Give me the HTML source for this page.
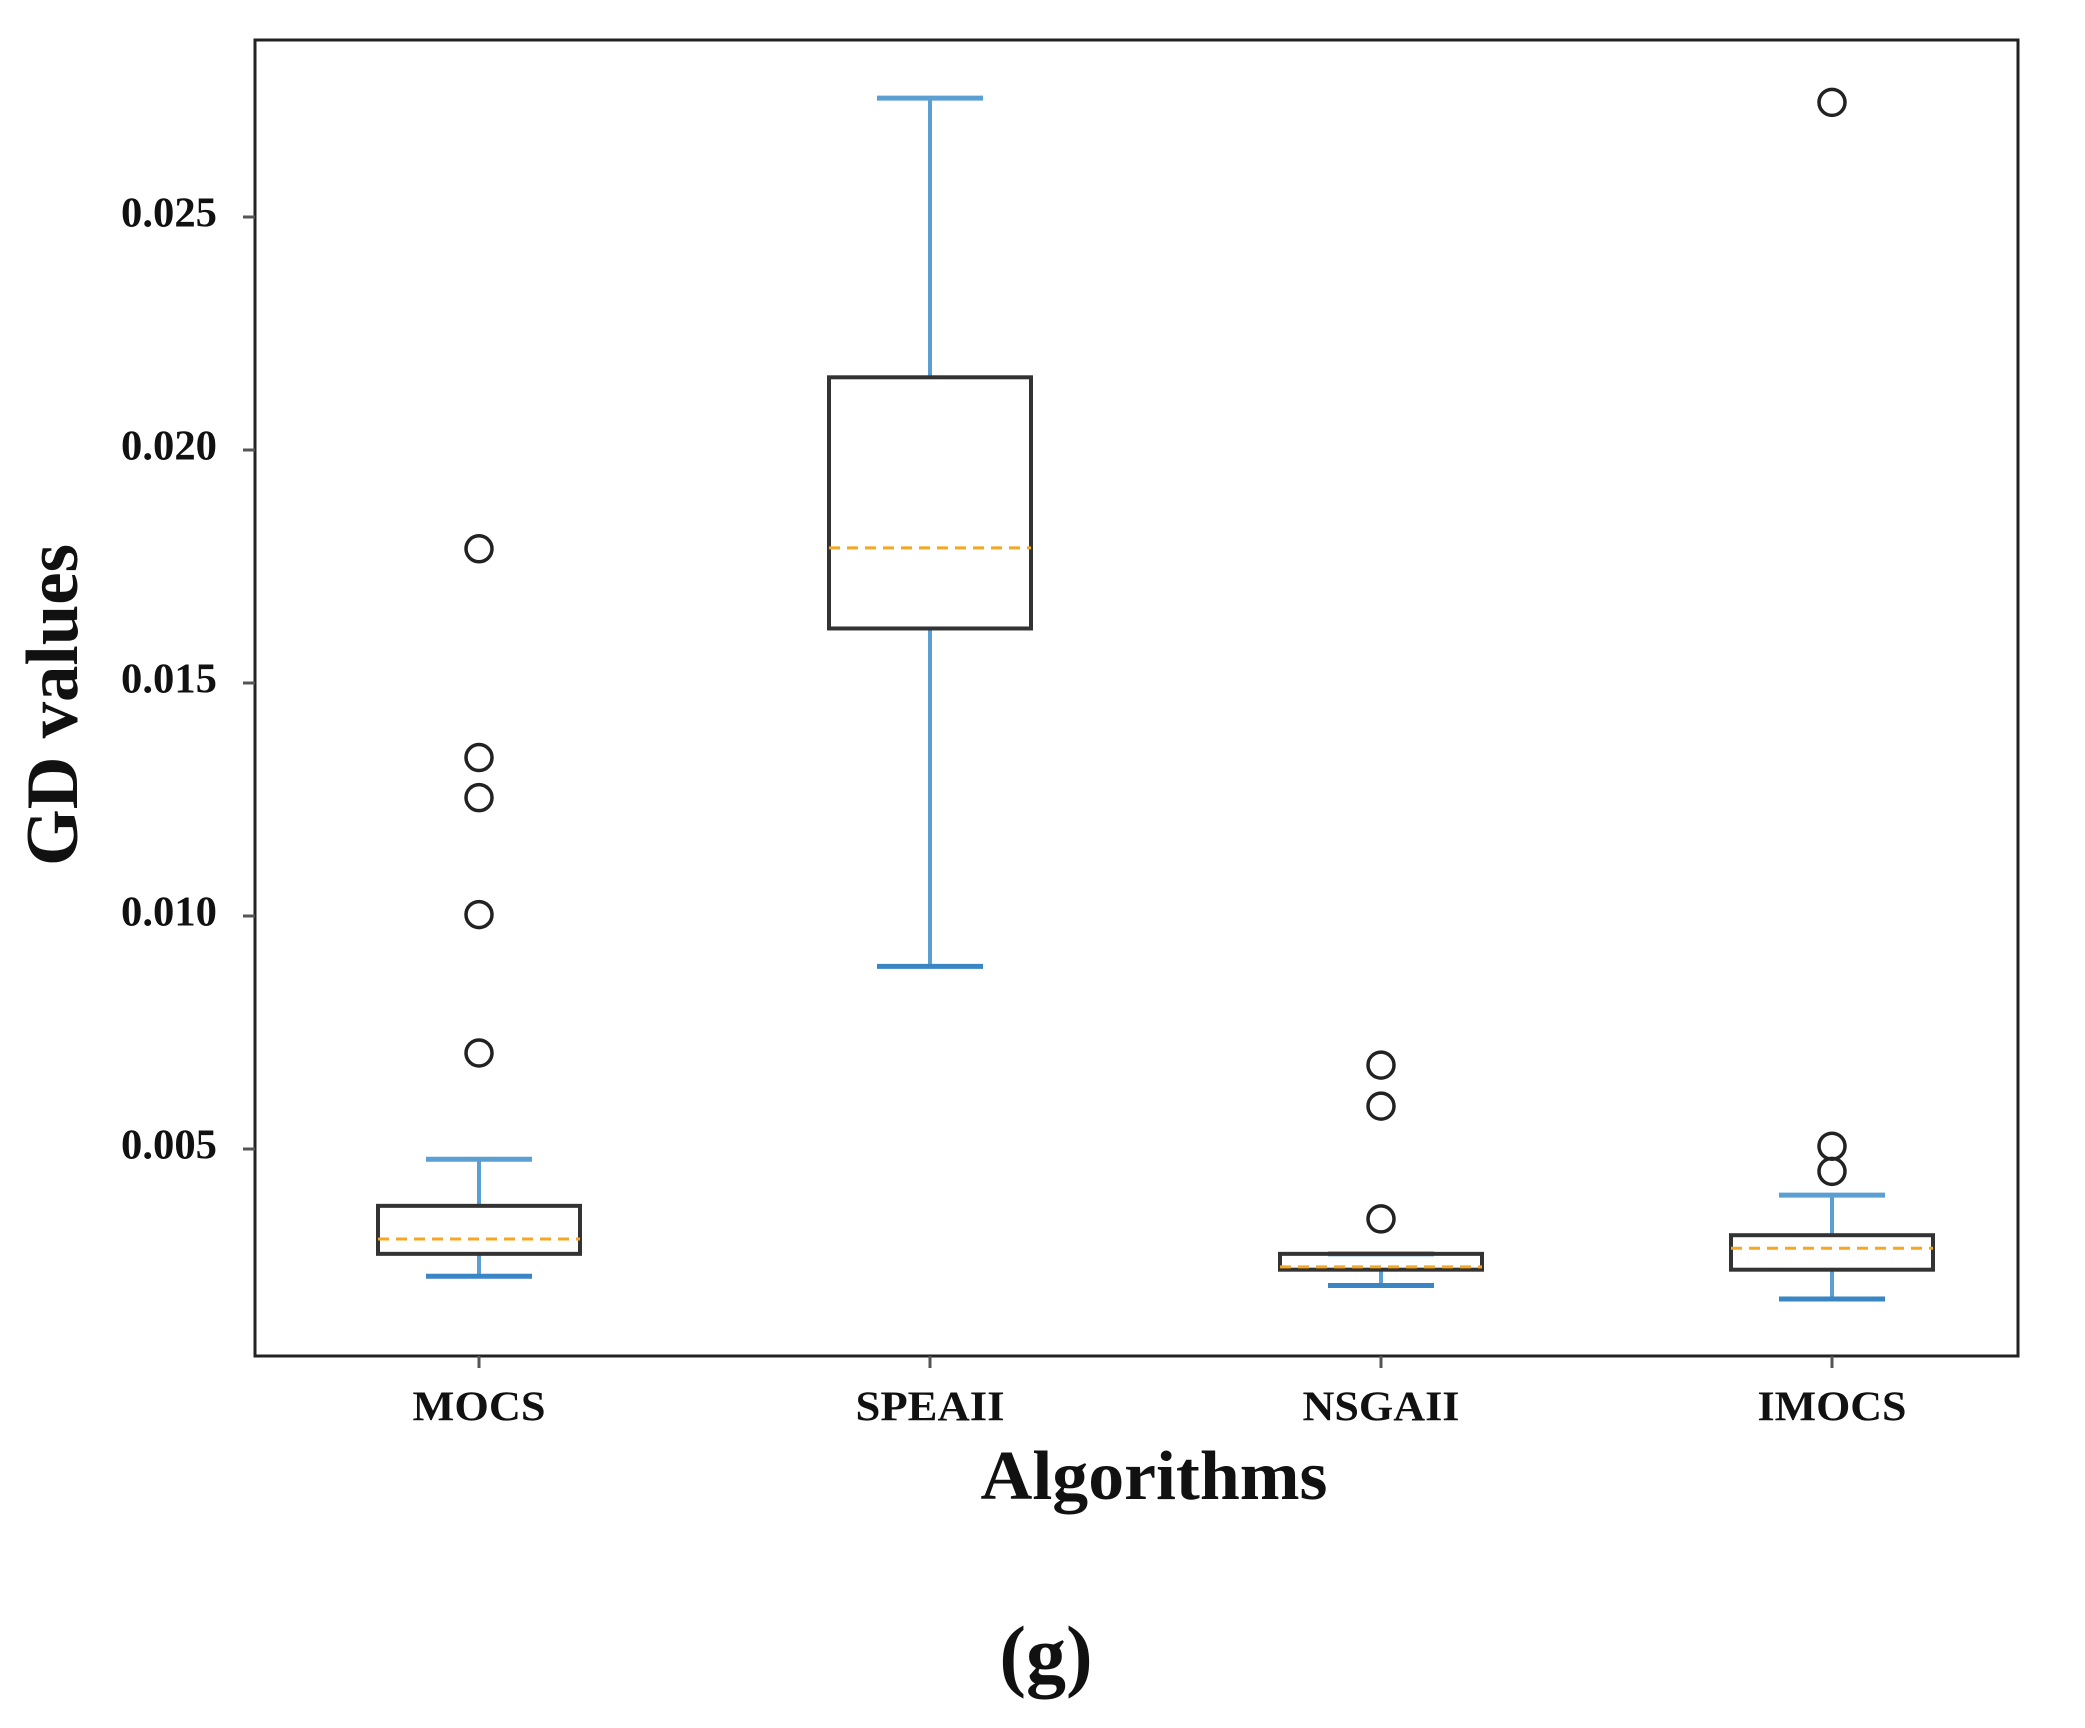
<!DOCTYPE html>
<html><head><meta charset="utf-8"><style>
html,body{margin:0;padding:0;background:#fff;}
svg{display:block;}
text{font-family:"Liberation Serif",serif;font-weight:bold;fill:#111;}
</style></head><body>
<svg id="chart" width="2085" height="1728" viewBox="0 0 2085 1728">
<rect x="0" y="0" width="2085" height="1728" fill="#fff"/>
<g id="plot"></g>
<rect x="255" y="40" width="1763" height="1316" fill="none" stroke="#222" stroke-width="3"/>
<g id="yticks"></g>
<g id="xticks"></g>
<text x="60" y="705" font-size="74" text-anchor="middle" dominant-baseline="middle" textLength="322" lengthAdjust="spacingAndGlyphs" transform="rotate(-90 60 705)">GD values</text>
<text x="1154" y="1483" font-size="70" text-anchor="middle" dominant-baseline="middle" textLength="347" lengthAdjust="spacingAndGlyphs">Algorithms</text>
<text x="1046" y="1663" font-size="80" text-anchor="middle" dominant-baseline="middle">(g)</text>
</svg>
<script>
const categories = ["MOCS","SPEAII","NSGAII","IMOCS"];
const whiskerLow = [0.00227,0.00892,0.00207,0.00178];
const q1 = [0.00275,0.01617,0.00241,0.00241];
const medians = [0.00307,0.0179,0.00247,0.00287];
const q3 = [0.00378,0.02156,0.00275,0.00315];
const whiskerHigh = [0.00478,0.02755,0.00275,0.00401];
const outliers = [[0.01788,0.0134,0.01254,0.01003,0.00706],[],[0.0068,0.00592,0.0035],[0.02746,0.00506,0.00452]];
const yTicks = [0.005,0.010,0.015,0.020,0.025];
const yTickLabels = ["0.005","0.010","0.015","0.020","0.025"];

const NS="http://www.w3.org/2000/svg";
const pLeft=255,pRight=2018,pTop=40,pBottom=1356;
const yMin=(1382-1356)/46600, yMax=(1382-40)/46600;
function y(v){return pBottom-(v-yMin)/(yMax-yMin)*(pBottom-pTop);}
const xFirst=479, xStep=451;
function x(i){return xFirst+xStep*i;}
function mk(tag,attrs,parent){const e=document.createElementNS(NS,tag);for(const k in attrs)e.setAttribute(k,attrs[k]);parent.appendChild(e);return e;}
const plot=document.getElementById('plot'),yg=document.getElementById('yticks'),xg=document.getElementById('xticks');
const blue="#5b9fd3",boxHalf=101,capHalf=53;
const xLabelW=[133,149,157,149];
categories.forEach((c,i)=>{
  const cx=x(i);
  const g=mk('g',{},plot);
  
  
  const w1=mk('line',{x1:cx,x2:cx,y1:y(q1[i]),y2:y(whiskerLow[i]),stroke:blue,'stroke-width':4},g);
  
  
  const w2=mk('line',{x1:cx,x2:cx,y1:y(q3[i]),y2:y(whiskerHigh[i]),stroke:blue,'stroke-width':4},g);
  
  
  const c1=mk('line',{x1:cx-capHalf,x2:cx+capHalf,y1:y(whiskerLow[i]),y2:y(whiskerLow[i]),stroke:"#3a86c4",'stroke-width':5},g);
  
  
  const c2=mk('line',{x1:cx-capHalf,x2:cx+capHalf,y1:y(whiskerHigh[i]),y2:y(whiskerHigh[i]),stroke:blue,'stroke-width':5},g);
  
  
  const b=mk('rect',{x:cx-boxHalf,y:y(q3[i]),width:2*boxHalf,height:y(q1[i])-y(q3[i]),fill:'none',stroke:'#333','stroke-width':4},g);
  
  
  const m=mk('line',{x1:cx-boxHalf,x2:cx+boxHalf,y1:y(medians[i]),y2:y(medians[i]),stroke:'#f5a623','stroke-width':3,'stroke-dasharray':'11,7'},g);
  
  
  outliers[i].forEach(v=>{
    const o=mk('ellipse',{cx:cx,cy:y(v),rx:13,ry:13,fill:'none',stroke:'#222','stroke-width':3.5},g);
    
    
  });
  const t=mk('line',{x1:cx,x2:cx,y1:pBottom,y2:pBottom+12,stroke:'#555','stroke-width':3},xg);
  
  
  const l=mk('text',{x:cx,y:1411,'font-size':42,'text-anchor':'middle','dominant-baseline':'middle',textLength:xLabelW[i],lengthAdjust:'spacingAndGlyphs'},xg);
  l.textContent=c;
  
  
});
yTicks.forEach((v,i)=>{
  const t=mk('line',{x1:pLeft-12,x2:pLeft,y1:y(v),y2:y(v),stroke:'#555','stroke-width':3},yg);
  
  
  const l=mk('text',{x:217,y:y(v),'font-size':42,'text-anchor':'end','dominant-baseline':'middle',textLength:96,lengthAdjust:'spacingAndGlyphs'},yg);
  l.textContent=yTickLabels[i];
  
  
});
</script>
</body></html>
